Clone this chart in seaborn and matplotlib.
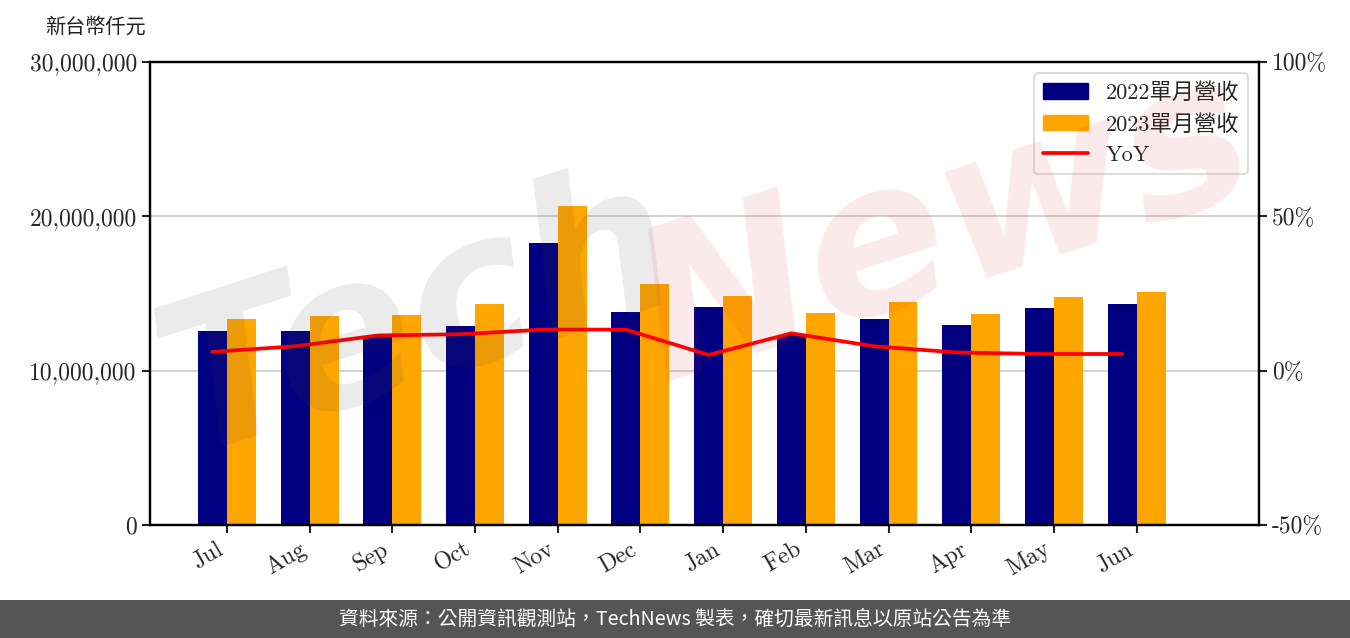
import numpy as np
import pandas as pd
import seaborn as sns
import matplotlib.pyplot as plt
from matplotlib.patches import Patch, Rectangle
from matplotlib.lines import Line2D
from matplotlib.ticker import FuncFormatter

months = ["Jul", "Aug", "Sep", "Oct", "Nov", "Dec", "Jan", "Feb", "Mar", "Apr", "May", "Jun"]
rev_2022 = [12570000, 12570000, 12270000, 12900000, 18280000, 13800000,
            14130000, 12310000, 13350000, 12960000, 14060000, 14320000]
rev_2023 = [13350000, 13540000, 13610000, 14320000, 20670000, 15620000,
            14840000, 13740000, 14450000, 13670000, 14780000, 15100000]
yoy = [6.1, 7.9, 11.4, 11.8, 13.3, 13.3, 5.1, 12.1, 7.9, 5.9, 5.4, 5.4]
series = ["2022單月營收", "2023單月營收"]

sns.set_theme(style="ticks")
plt.rcParams["font.family"] = ["cmr10", "Noto Sans CJK TC"]
plt.rcParams["axes.formatter.use_mathtext"] = True
plt.rcParams["axes.edgecolor"] = "black"

df = pd.DataFrame({
    "month": months * 2,
    "revenue": rev_2022 + rev_2023,
    "year": [series[0]] * 12 + [series[1]] * 12,
})

fig = plt.figure(figsize=(13.5, 6.38), dpi=100)
ax1 = fig.add_axes([150 / 1350, 1 - 525 / 638, 1109 / 1350, 463 / 638])

sns.barplot(data=df, x="month", y="revenue", hue="year", palette=["navy", "orange"],
            width=0.7, saturation=1, linewidth=0, legend=False, ax=ax1)

# YoY line sits on the centre of the 2022 bars
ax2 = ax1.twinx()
x_line = np.arange(len(months)) - 0.175
sns.lineplot(x=x_line, y=yoy, color="red", linewidth=2.7, ax=ax2)

ax1.set_xlim(-0.93, 12.48)
ax1.set_ylim(0, 30000000)
ax2.set_ylim(-50, 100)
ax1.set_yticks([0, 10000000, 20000000, 30000000])
ax1.yaxis.set_major_formatter(FuncFormatter(lambda v, p: f"{v:,.0f}"))
ax2.set_yticks([-50, 0, 50, 100])
ax2.yaxis.set_major_formatter(FuncFormatter(lambda v, p: f"{v:.0f}%"))
ax1.set_xlabel("")
ax1.set_ylabel("")

ax1.grid(axis="y", color="#d4d4d4", linewidth=1.5)
ax1.set_axisbelow(True)

for ax in (ax1, ax2):
    for sp in ax.spines.values():
        sp.set_linewidth(1.6)
        sp.set_color("black")
    ax.tick_params(labelsize=17, width=1.5, length=6, color="#222222")

ax1.tick_params(axis="x", rotation=30)
for lbl in ax1.get_xticklabels():
    lbl.set_ha("right")
    lbl.set_rotation_mode("default")

handles = [Patch(color="navy", label=series[0]),
           Patch(color="orange", label=series[1]),
           Line2D([], [], color="red", linewidth=2.7, label="YoY")]
leg = ax2.legend(handles=handles, loc="upper right", fontsize=16, frameon=True,
                 fancybox=True, borderaxespad=0.5)
leg.get_frame().set_edgecolor("#cccccc")
leg.get_frame().set_linewidth(1.2)

# watermark
fig.text(0.31, 0.50, "Tech", rotation=18, fontsize=150, color="#4a4a4a", alpha=0.11,
         family="DejaVu Sans", weight="bold", style="italic", ha="center", va="center")
fig.text(0.70, 0.64, "News", rotation=18, fontsize=150, color="#d8303c", alpha=0.10,
         family="DejaVu Sans", weight="bold", style="italic", ha="center", va="center")

fig.text(45 / 1350, 1 - 27 / 638, "新台幣仟元", family="Noto Sans CJK TC", fontsize=14.5,
         va="center", ha="left", color="#222222")

# footer band
fig.add_artist(Rectangle((0, 0), 1, 38 / 638, transform=fig.transFigure,
                         facecolor="#555555", edgecolor="none"))
fig.text(0.5, 19 / 638, "資料來源：公開資訊觀測站，TechNews 製表，確切最新訊息以原站公告為準",
         family="Noto Sans CJK TC", fontsize=14.2, color="white", ha="center", va="center")

fig.savefig("out.png", dpi=100)
